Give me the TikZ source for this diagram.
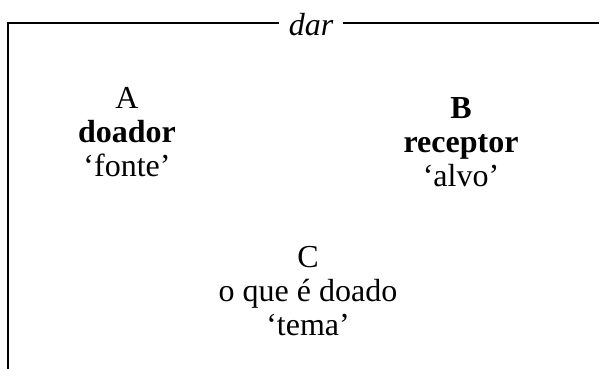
\documentclass[tikz,border=0pt]{standalone}
\usepackage{fontspec}
\setmainfont{Liberation Serif}
\begin{document}
\begin{tikzpicture}[x=1pt,y=1pt,
  lbl/.style={align=center,font=\fontsize{32}{34}\selectfont,inner sep=0pt},
  frame/.style={line width=2pt}]
\useasboundingbox (0,0) rectangle (600,369);
\node[font=\fontsize{32}{34}\selectfont\itshape,inner xsep=10pt,inner ysep=0pt] (dar) at (311,344) {dar};
\coordinate (bl) at (8,0);
\coordinate (tl) at (8,346);
\coordinate (tr) at (599,346);
\draw[frame] (bl) -- (tl) -- (tl -| dar.west);
\draw[frame] (tr -| dar.east) -- (tr);
\node[lbl] (A) at (127,237) {A\\\textbf{doador}\\`fonte'};
\node[lbl] (B) at (461,227) {\textbf{B}\\\textbf{receptor}\\`alvo'};
\node[lbl] (C) at (308,78) {C\\o que é doado\\`tema'};
\end{tikzpicture}
\end{document}
